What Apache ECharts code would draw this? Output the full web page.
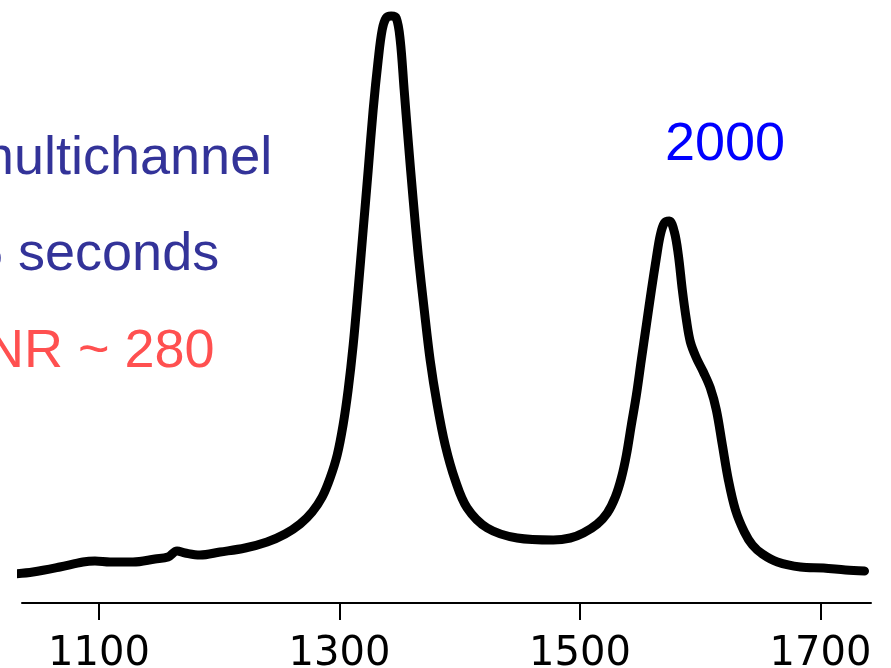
<!DOCTYPE html>
<html>
<head>
<meta charset="utf-8">
<script src="https://cdn.jsdelivr.net/npm/echarts@6/dist/echarts.min.js"></script>
<style>
html,body{margin:0;padding:0;background:#fff;}
#chart{width:891px;height:668px;}
</style>
</head>
<body>
<div id="chart"></div>
<script>
// Raman shift (cm-1)
const shifts = [1029.3,1045.1,1067.5,1086.7,1096.7,1109.2,1128.3,1146.6,1157.4,1164.9,1171.6,1184.0,1200.7,1221.5,1239.8,1254.8,1267.3,1277.3,1285.6,1292.2,1298.1,1303.0,1307.2,1311.4,1315.5,1319.7,1323.9,1328.0,1332.2,1335.5,1338.8,1343.0,1347.2,1350.5,1353.8,1357.1,1361.3,1365.5,1370.5,1375.4,1381.3,1387.9,1396.2,1406.2,1422.9,1447.8,1477.8,1491.9,1502.8,1514.4,1522.7,1529.4,1534.4,1538.6,1542.7,1546.9,1551.0,1555.2,1559.4,1563.5,1566.8,1570.2,1574.3,1578.5,1581.8,1585.1,1588.5,1591.8,1596.8,1602.6,1608.4,1613.4,1618.4,1623.4,1629.3,1636.7,1643.4,1651.7,1664.2,1683.3,1702.5,1720.8,1736.6];
// Intensity (arbitrary units)
const intensity = [29,31,36,41,42,41,41,44,46,52,50,48,51,55,61,69,79,91,106,125,148,178,213,258,313,373,433,493,543,573,585,587,585,563,513,463,403,348,293,243,198,158,123,95,75,65,63,65,70,79,90,106,125,148,178,208,243,278,313,345,368,380,382,371,348,313,283,261,245,231,215,193,158,123,93,71,58,49,41,36,35,33,32];
// Tick labels
const tickValues = [1100, 1300, 1500, 1700];
// Annotations
const noteLines = ["multichannel", "5 seconds", "SNR ~ 280"];
const sideNote = "2000";

const data = shifts.map((s, i) => [s, intensity[i]]);

const chart = echarts.init(document.getElementById('chart'), null, {renderer: 'canvas'});
const textFont = 'Liberation Sans, Arial, Helvetica, sans-serif';
chart.setOption({
  animation: false,
  backgroundColor: '#ffffff',
  grid: {left: 22, right: 20, top: 0, bottom: 65, containLabel: false, outerBoundsMode: 'none'},
  xAxis: {
    type: 'value',
    min: 1036,
    max: 1742,
    splitLine: {show: false},
    axisLine: {show: true, onZero: false, lineStyle: {color: '#000', width: 2}},
    axisTick: {show: true, customValues: tickValues, length: 17, inside: false, lineStyle: {color: '#000', width: 2}},
    axisLabel: {
      show: true, customValues: tickValues, margin: 32,
      formatter: function (v) { return String(v); },
      color: '#000', fontSize: 40, fontFamily: 'DejaVu Sans, sans-serif'
    }
  },
  yAxis: {
    type: 'value', min: 0, max: 603, show: false, splitLine: {show: false}
  },
  series: [{
    type: 'line',
    data: data,
    clip: false,
    showSymbol: false,
    smooth: 0.35,
    lineStyle: {color: '#000', width: 9, cap: 'round', join: 'round'}
  }],
  graphic: [
    {type: 'text', x: -31, y: 159, style: {text: noteLines[0], fill: '#333399', font: '54px ' + textFont, verticalAlign: 'middle', align: 'left'}},
    {type: 'text', x: -27, y: 255, style: {text: noteLines[1], fill: '#333399', font: '54px ' + textFont, verticalAlign: 'middle', align: 'left'}},
    {type: 'text', x: -51, y: 352, style: {text: noteLines[2], fill: '#ff5050', font: '54px ' + textFont, verticalAlign: 'middle', align: 'left'}},
    {type: 'text', x: 725, y: 145, style: {text: sideNote, fill: '#0000ff', font: '54px ' + textFont, verticalAlign: 'middle', align: 'center'}}
  ]
});
</script>
</body>
</html>
